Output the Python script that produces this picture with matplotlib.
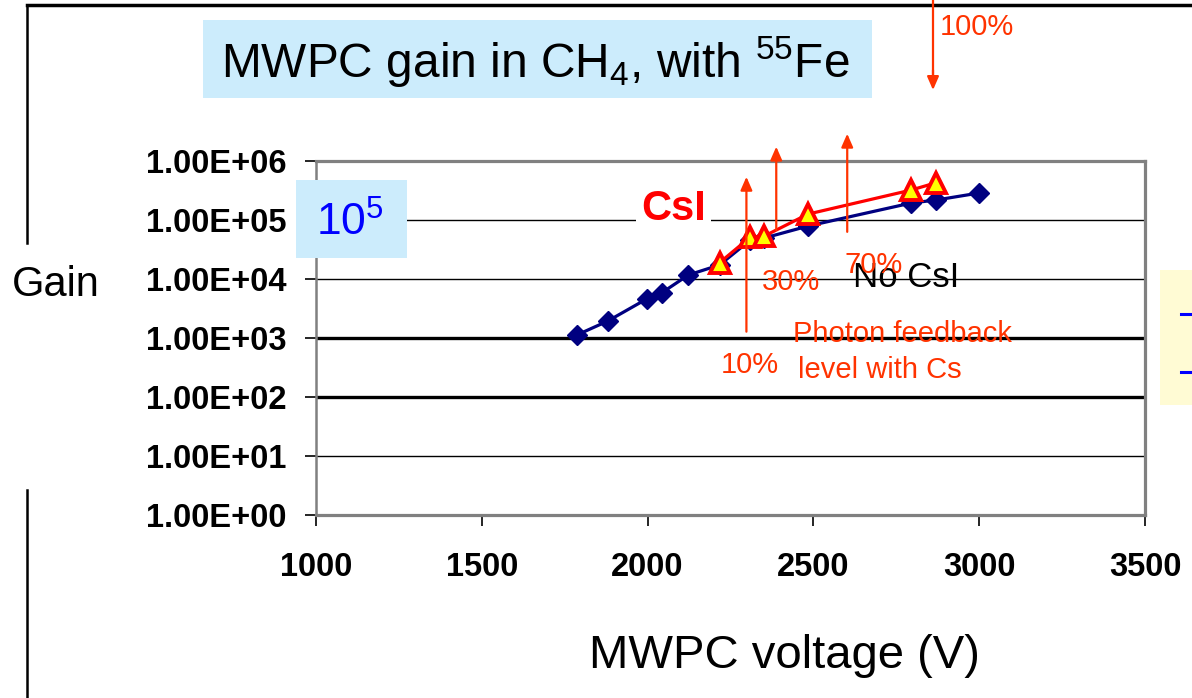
import matplotlib
matplotlib.use("Agg")
import matplotlib.pyplot as plt
from matplotlib.patches import Rectangle
from matplotlib.lines import Line2D
from matplotlib import font_manager

plt.rcParams["mathtext.fontset"] = "custom"
plt.rcParams["mathtext.rm"] = "Liberation Sans"
plt.rcParams["mathtext.it"] = "Liberation Sans"
plt.rcParams["mathtext.bf"] = "Liberation Sans:bold"

# ---------------- data ----------------
voltage_nocsi = [1786, 1880, 1997, 2042, 2123, 2217, 2310, 2352, 2484, 2795, 2870, 3000]
gain_nocsi = [1120, 1940, 4580, 5800, 11700, 17300, 45800, 49500, 79000, 194000, 218000, 287000]
voltage_csi = [2217, 2310, 2352, 2484, 2795, 2870]
gain_csi = [18900, 51500, 53500, 126000, 322000, 428000]

x_ticks = [1000, 1500, 2000, 2500, 3000, 3500]
x_tick_labels = ["1000", "1500", "2000", "2500", "3000", "3500"]
y_ticks = [1e0, 1e1, 1e2, 1e3, 1e4, 1e5, 1e6]
y_tick_labels = ["1.00E+00", "1.00E+01", "1.00E+02", "1.00E+03", "1.00E+04", "1.00E+05", "1.00E+06"]

# photon feedback arrows: (voltage, gain start, gain end)
feedback_arrows = [(2298, 1.28e3, 5.4e5), (2388, 6.8e4, 1.75e6), (2602, 6.3e4, 2.9e6)]

W, H = 1192, 698
fig = plt.figure(figsize=(W / 100, H / 100), dpi=100)

def fx(x):
    return x / W

def fy(y):
    return 1 - y / H

names = {f.name for f in font_manager.fontManager.ttflist}
narrow = "Liberation Sans Narrow" in names
red_family = "Liberation Sans Narrow" if narrow else "Liberation Sans"
red_size = 25 if narrow else 21

RED = "#FF3300"
LBLUE = "#CCECFC"

ax = fig.add_axes([fx(316), fy(515), fx(1145) - fx(316), fy(161) - fy(515)])
ax.patch.set_alpha(0)
ax.set_yscale("log")
ax.set_xlim(1000, 3500)
ax.set_ylim(1, 1e6)

# gridlines
grid_w = {1e1: 1.0, 1e2: 2.4, 1e3: 2.4, 1e4: 1.0, 1e5: 1.0}
for yv in y_ticks[1:-1]:
    ax.axhline(yv, color="black", lw=grid_w[yv], zorder=1)

ax.plot(voltage_nocsi, gain_nocsi, color="#000080", lw=2.3, marker="D", ms=10.5,
        mfc="#000080", mec="#000080", zorder=3)
ax.plot(voltage_csi, gain_csi, color="#FF0000", lw=2.3, marker="^", ms=14,
        mfc="#FFFF00", mec="#FF0000", mew=2.8, zorder=4)

ax.set_xticks(x_ticks)
ax.set_xticklabels(x_tick_labels)
ax.set_yticks(y_ticks)
ax.set_yticklabels(y_tick_labels)
ax.yaxis.set_minor_locator(matplotlib.ticker.NullLocator())
for lab in ax.get_xticklabels() + ax.get_yticklabels():
    lab.set_fontfamily("Liberation Sans")
    lab.set_fontweight("bold")
    lab.set_fontsize(23.5)
ax.tick_params(axis="y", direction="out", length=8, width=1.2, pad=13, colors="black")
ax.tick_params(axis="x", direction="out", length=8, width=1.2, pad=19, colors="black")
for s in ["top", "bottom", "right"]:
    ax.spines[s].set_color("#808080")
    ax.spines[s].set_linewidth(2.3)
ax.spines["left"].set_color("#808080")
ax.spines["left"].set_linewidth(1.8)

for v, g0, g1 in feedback_arrows:
    ax.annotate("", xy=(v, g1), xytext=(v, g0), xycoords="data", annotation_clip=False,
                arrowprops=dict(arrowstyle="-|>,head_length=0.8,head_width=0.35", color=RED,
                                lw=1.6, shrinkA=0, shrinkB=0), zorder=5)

# texts in axes
ax.text(2078, 1.0e5, "CsI", color="#FF0000", fontsize=30, fontweight="bold",
        family="Liberation Sans", ha="center", va="baseline",
        bbox=dict(facecolor="white", edgecolor="none", pad=4), zorder=2)

# figure-level decorations
fig.add_artist(Line2D([fx(27), fx(1192)], [fy(5), fy(5)], color="black", lw=2.5))
fig.add_artist(Line2D([fx(27), fx(27)], [fy(5), fy(243)], color="black", lw=1.8))
fig.add_artist(Line2D([fx(27), fx(27)], [fy(490), fy(698)], color="black", lw=1.8))

fig.add_artist(Rectangle((fx(203), fy(98)), fx(872) - fx(203), fy(20) - fy(98),
                         transform=fig.transFigure, facecolor=LBLUE, edgecolor="none", zorder=0))
fig.text(fx(535), fy(78), r"MWPC gain in CH$_4$, with $^{55}$Fe", fontsize=34.5,
         family="Liberation Sans", ha="center", va="baseline", color="black")

fig.add_artist(Rectangle((fx(296), fy(258)), fx(407) - fx(296), fy(180) - fy(258),
                         transform=fig.transFigure, facecolor=LBLUE, edgecolor="none", zorder=2))
fig.text(fx(350), fy(236), r"10$^5$", fontsize=32, family="Liberation Sans",
         ha="center", va="baseline", color="#0000FF", zorder=3)

fig.text(fx(56), fy(296), "Gain", fontsize=30, family="Liberation Sans",
         ha="center", va="baseline")
fig.text(fx(784), fy(668), "MWPC voltage (V)", fontsize=34, family="Liberation Sans",
         ha="center", va="baseline")

fig.text(fx(906), fy(287), "No CsI", fontsize=25, family="Liberation Sans",
         ha="center", va="baseline", color="black")
for txt, x, y in [("10%", 750, 373), ("30%", 791, 290), ("70%", 874, 273),
                  ("100%", 977, 35), ("Photon feedback", 902, 342), ("level with Cs", 880, 378)]:
    fig.text(fx(x), fy(y), txt, fontsize=red_size, family=red_family, ha="center",
             va="baseline", color=RED)

# 100% arrow (pointing down from top)
fig.add_artist(Line2D([fx(933), fx(933)], [fy(0), fy(78)], color=RED, lw=1.6))
ax.annotate("", xy=(fx(933), fy(90)), xytext=(fx(933), fy(70)), xycoords="figure fraction",
            annotation_clip=False,
            arrowprops=dict(arrowstyle="-|>,head_length=0.8,head_width=0.35", color=RED,
                            lw=1.6, shrinkA=0, shrinkB=0))

# partial legend at right edge
fig.add_artist(Rectangle((fx(1160), fy(405)), fx(1192) - fx(1160), fy(270) - fy(405),
                         transform=fig.transFigure, facecolor="#FFFBD4", edgecolor="none", zorder=0))
for yy in (314, 372):
    fig.add_artist(Line2D([fx(1181), fx(1192)], [fy(yy), fy(yy)], color="#0000FF", lw=2.2))

fig.savefig("out.png", dpi=100)
